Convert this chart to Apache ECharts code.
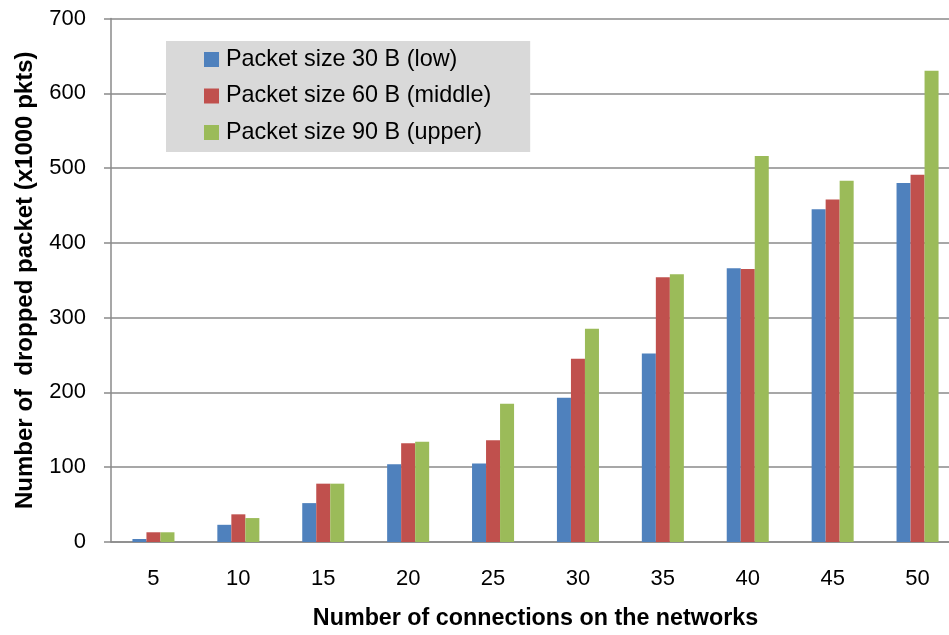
<!DOCTYPE html>
<html>
<head>
<meta charset="utf-8">
<script src="https://cdn.jsdelivr.net/npm/echarts@6/dist/echarts.min.js"></script>
<style>html,body{margin:0;padding:0;background:#fff;overflow:hidden;width:949px;height:635px;}#c{width:961px;height:635px;}</style>
</head>
<body>
<div id="c"></div>
<script>
var categories = ['5','10','15','20','25','30','35','40','45','50'];
var low    = [4, 23, 52, 104, 105, 193, 252, 366, 445, 480];
var middle = [13, 37, 78, 132, 136, 245, 354, 365, 458, 491];
var upper  = [13, 32, 78, 134, 185, 285, 358, 516, 483, 630];
var seriesNames = ['Packet size 30 B (low)', 'Packet size 60 B (middle)', 'Packet size 90 B (upper)'];
var colors = ['#4f81bd', '#c0504d', '#9bbb59'];
var yTicks = {min: 0, max: 700, interval: 100};

var FONT = 'Liberation Sans';
var chart = echarts.init(document.getElementById('c'), null, {renderer: 'canvas'});
var gridColor = '#8a8a8a';
chart.setOption({
  animation: false,
  color: colors,
  textStyle: {fontFamily: FONT},
  grid: {left: 111, top: 18.5, width: 849, bottom: 89, containLabel: false},
  legend: {
    orient: 'vertical', left: 166, top: 41,
    backgroundColor: '#d9d9d9',
    padding: [7, 39, 8, 38],
    itemWidth: 15, itemHeight: 15, itemGap: 13.5,
    icon: 'rect',
    textStyle: {fontFamily: FONT, fontSize: 23.4, color: '#000', padding: [0,0,0,2]},
    data: seriesNames
  },
  xAxis: {
    type: 'category', data: categories,
    name: 'Number of connections on the networks',
    nameLocation: 'middle', nameGap: 65,
    nameTextStyle: {fontFamily: FONT, fontSize: 23.3, fontWeight: 'bold', color: '#000'},
    axisLine: {show: true, lineStyle: {color: gridColor, width: 1.5}},
    axisTick: {show: false},
    axisLabel: {fontFamily: FONT, fontSize: 22, color: '#000', margin: 26}
  },
  yAxis: {
    type: 'value', min: yTicks.min, max: yTicks.max, interval: yTicks.interval,
    name: 'Number of  dropped packet (x1000 pkts)',
    nameLocation: 'middle', nameGap: 74,
    nameTextStyle: {fontFamily: FONT, fontSize: 24, fontWeight: 'bold', color: '#000'},
    axisLine: {show: true, lineStyle: {color: gridColor, width: 1.5}},
    axisTick: {show: true, length: 7, lineStyle: {color: gridColor, width: 1.5}},
    axisLabel: {fontFamily: FONT, fontSize: 22, color: '#000', margin: 25},
    splitLine: {show: true, lineStyle: {color: gridColor, width: 1.5}}
  },
  series: [
    {name: seriesNames[0], type: 'bar', data: low, barWidth: '16.5%', barGap: '0%', barCategoryGap: '50%'},
    {name: seriesNames[1], type: 'bar', data: middle, barWidth: '16.5%', barGap: '0%'},
    {name: seriesNames[2], type: 'bar', data: upper, barWidth: '16.5%', barGap: '0%'}
  ]
});
</script>
</body>
</html>
